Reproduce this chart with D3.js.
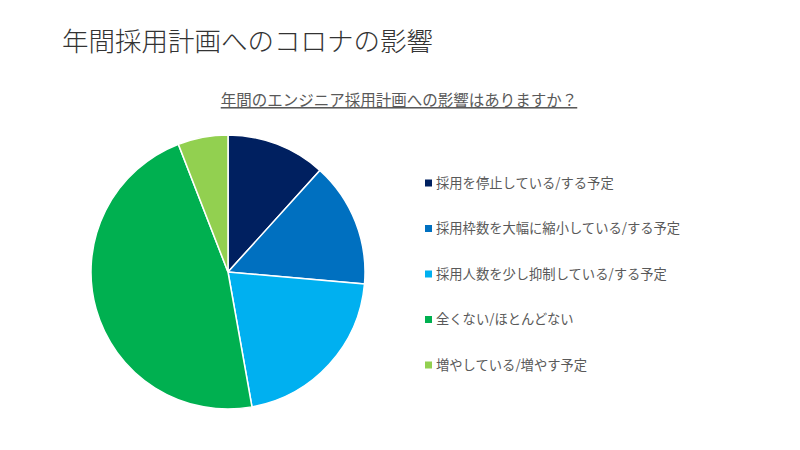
<!DOCTYPE html>
<html><head><meta charset="utf-8">
<script src="https://cdn.jsdelivr.net/npm/d3@7"></script>
<style>
body{margin:0;background:#fff;}
text{font-family:"Noto Sans CJK JP","Noto Sans",sans-serif;}
</style></head>
<body><svg id="c" width="800" height="450"></svg>
<script>
const categories = ["採用を停止している/する予定","採用枠数を大幅に縮小している/する予定","採用人数を少し抑制している/する予定","全くない/ほとんどない","増やしている/増やす予定"];
const values = [11.7, 14.7, 20.8, 46.9, 5.9];
const colors = ["#002060","#0070C0","#00B0F0","#00B050","#92D050"];
const title = "年間採用計画へのコロナの影響";
const subtitle = "年間のエンジニア採用計画への影響はありますか？";

const svg = d3.select("#c");
svg.append("rect").attr("width",800).attr("height",450).attr("fill","#fff");
svg.append("text").attr("x",62).attr("y",51).attr("font-size",26.5).attr("font-weight",300).attr("fill","#333").text(title);
svg.append("text").attr("x",399).attr("y",106).attr("text-anchor","middle").attr("font-size",15.5).attr("fill","#595959").attr("text-decoration","underline").text(subtitle);

const cx=228, cy=272, r=137;
const pie = d3.pie().sort(null).value(d=>d);
const arc = d3.arc().innerRadius(0).outerRadius(r);
const color = d3.scaleOrdinal().domain(categories).range(colors);
svg.append("g").attr("transform",`translate(${cx},${cy})`)
  .selectAll("path").data(pie(values)).join("path")
  .attr("d",arc).attr("fill",(d,i)=>color(categories[i])).attr("stroke","#fff").attr("stroke-width",1.5);

const ly = d3.scalePoint().domain(categories).range([183,365]);
const lg = svg.append("g").selectAll("g").data(categories).join("g").attr("transform",d=>`translate(425,${ly(d)})`);
lg.append("rect").attr("x",0).attr("y",-3.5).attr("width",7).attr("height",7).attr("fill",d=>color(d));
lg.append("text").attr("x",11).attr("y",0).attr("dy","0.35em").attr("font-size",13.3).attr("fill","#595959").text(d=>d);
</script></body></html>
